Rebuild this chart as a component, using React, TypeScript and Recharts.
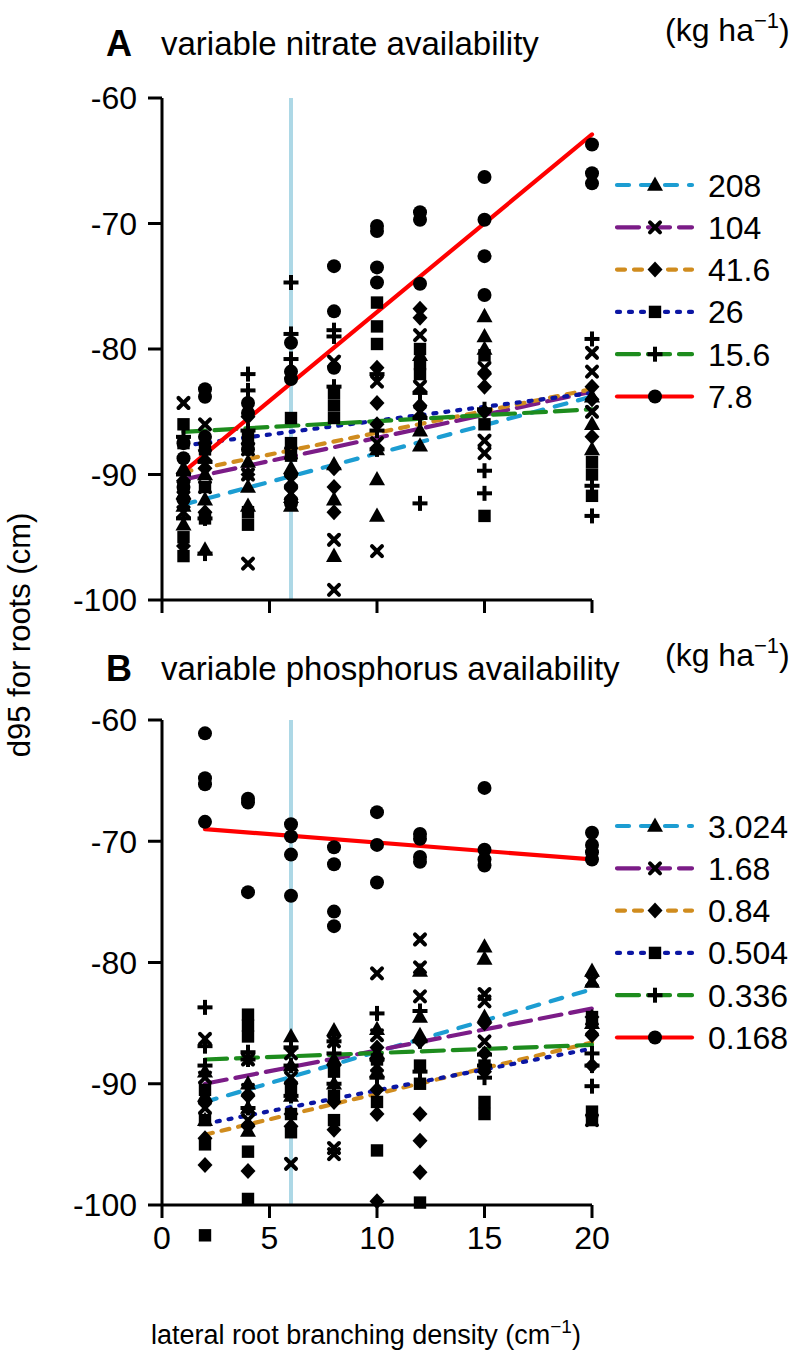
import React from 'react';
import { ComposedChart, Scatter, Line, XAxis, YAxis, ReferenceLine, ReferenceDot, Legend } from 'recharts';

const FONT = '"Liberation Sans", Arial, Helvetica, sans-serif';

// ---------- shared axes ----------
const yTicks = [-100, -90, -80, -70, -60];
const xTicks = [0, 5, 10, 15, 20];
const referenceDensity = 6;

// ---------- Panel A: variable nitrate availability (kg ha-1) ----------
const nitrateLevels = ['208', '104', '41.6', '26', '15.6', '7.8'];
const nitrateDensities = [1, 2, 4, 6, 8, 10, 12, 15, 20];
const nitrate208 = [
  [-89.5, -91.5, -92.5, -94], [-90, -92, -96], [-89, -91, -92.5], [-89.5, -91.8, -92.5],
  [-89.2, -92, -96.5], [-88, -90.4, -93.3], [-80.5, -86.5, -87.7], [-77.4, -79, -80], [-83.8, -86, -88],
];
const nitrate104 = [
  [-84.3, -91, -93], [-86, -88.5, -91], [-88, -90, -97.1], [-88.3, -90.5, -91.5],
  [-81, -95.2, -99.2], [-82.6, -87.5, -96.1], [-78.9, -83, -85], [-81.5, -87.3, -88.3], [-80.3, -81.8, -85],
];
const nitrate41_6 = [
  [-90.5, -92, -95.7], [-87.5, -89.5, -93], [-85.4, -87.5, -90], [-90, -91, -92],
  [-89.5, -91, -93], [-81.5, -84.3, -86], [-76.8, -77.5, -84.5], [-82, -83, -85], [-83, -84, -87],
];
const nitrate26 = [
  [-86, -87.5, -95, -96.5], [-88, -91, -93.5], [-87, -93, -94], [-85.5, -87.5, -88.5],
  [-83.5, -84.5, -85.5], [-76.3, -78.2, -79.6], [-80, -81.2, -82], [-80.5, -86, -93.3], [-89, -90, -91.7],
];
const nitrate15_6 = [
  [-87, -90, -93.5], [-89, -93.5, -96.3], [-82, -83.3, -86.5], [-74.7, -78.8, -80.8],
  [-78.5, -79, -83], [-82, -86.5, -88], [-83.5, -85.5, -92.3], [-84.8, -89.7, -91.5], [-79.2, -90.9, -93.3],
];
const nitrate7_8 = [
  [-87.5, -88.7, -91, -92], [-83.2, -83.8, -87], [-84.3, -85.1, -88], [-79.5, -81.8, -82.4, -92.3],
  [-73.4, -77, -81.5], [-70.2, -70.6, -73.5, -74.7], [-69.1, -69.7, -74.8], [-66.3, -69.7, -72.6, -75.7], [-63.7, -66, -66.8],
];
const nitrateFitRange = [1, 20];
const nitrateFitStart = [-92.4, -90.4, -89.8, -87.7, -86.6, -89.8];
const nitrateFitEnd = [-83.8, -83.4, -83.2, -83.5, -84.8, -62.9];

// ---------- Panel B: variable phosphorus availability (kg ha-1) ----------
const phosphorusLevels = ['3.024', '1.68', '0.84', '0.504', '0.336', '0.168'];
const phosphorusDensities = [2, 4, 6, 8, 10, 12, 15, 20];
const phosphorus3_024 = [
  [-89, -91, -93], [-90, -92, -93.9], [-86.1, -88.5, -91], [-85.6, -88, -90],
  [-85.5, -87.5, -89], [-80.7, -84.5, -86], [-78.7, -79.7, -84.5], [-80.7, -81.6, -85],
];
const phosphorus1_68 = [
  [-86.3, -89.5, -92], [-88, -90.5, -93], [-87.5, -89.5, -96.6], [-86.5, -95.3, -95.8],
  [-80.9, -86, -88.5], [-78.1, -80.4, -82.8], [-82.6, -83.2, -86.5], [-81.5, -85.5, -93],
];
const phosphorus0_84 = [
  [-91.5, -94.5, -96.7], [-91, -93.5, -97.2], [-90, -92.5, -93.5], [-88.5, -91.5, -93.8],
  [-87, -90.5, -92.5, -99.7], [-86.5, -92.5, -94.7, -97.3], [-85, -87.5, -89], [-84.5, -86, -88.5],
];
const phosphorus0_504 = [
  [-90.5, -93, -95, -102.5], [-84.3, -85.2, -86.1, -95.6, -99.5], [-90.5, -92.5, -94], [-89, -91, -93],
  [-88, -91.5, -95.5], [-88.5, -90, -99.8], [-88.5, -91.5, -92.5], [-84.5, -92.3, -93],
];
const phosphorus0_336 = [
  [-83.7, -86.9, -88.5], [-87.4, -88, -92], [-87, -88.5, -91], [-86.5, -87.5, -90],
  [-84.2, -88, -89.5], [-84, -86.5, -89], [-87.6, -88.5, -89.5], [-87.5, -88.5, -90.2],
];
const phosphorus0_168 = [
  [-61.1, -64.8, -65.3, -68.4], [-66.5, -66.8, -74.2], [-68.6, -69.6, -71.1, -74.5], [-70.5, -71.9, -75.8, -77],
  [-67.6, -70.3, -73.4], [-69.4, -69.8, -71.3, -71.7], [-65.6, -70.7, -71.5, -72], [-69.3, -70.3, -70.9, -71.5],
];
const phosphorusFitRange = [2, 20];
const phosphorusFitStart = [-91.5, -90, -94.2, -93.3, -88, -69];
const phosphorusFitEnd = [-82.2, -83.8, -86.6, -87.1, -86.8, -71.5];

// ---------- styles ----------
type MarkerKind = 'triangle' | 'cross' | 'diamond' | 'square' | 'plus' | 'circle';
const STYLES: { color: string; dash?: string; marker: MarkerKind }[] = [
  { color: '#1c9dd2', dash: '12 12', marker: 'triangle' },
  { color: '#7b1c87', dash: '22 9', marker: 'cross' },
  { color: '#d08c1e', dash: '8 9', marker: 'diamond' },
  { color: '#0b16a3', dash: '3 9', marker: 'square' },
  { color: '#1d8c1d', dash: '22 9', marker: 'plus' },
  { color: '#ff0000', dash: undefined, marker: 'circle' },
];
const LINE_W = 4.2;

function Marker({ kind, cx, cy }: { kind: MarkerKind; cx: number; cy: number }) {
  if (cx == null || cy == null || isNaN(cx) || isNaN(cy)) return null;
  switch (kind) {
    case 'triangle':
      return <polygon points={`${cx},${cy - 8.5} ${cx + 8},${cy + 5.8} ${cx - 8},${cy + 5.8}`} fill="#000" />;
    case 'cross':
      return (
        <g stroke="#000" strokeWidth={4} strokeLinecap="round">
          <line x1={cx - 5} y1={cy - 5} x2={cx + 5} y2={cy + 5} />
          <line x1={cx - 5} y1={cy + 5} x2={cx + 5} y2={cy - 5} />
        </g>
      );
    case 'diamond':
      return <polygon points={`${cx},${cy - 8} ${cx + 7.5},${cy} ${cx},${cy + 8} ${cx - 7.5},${cy}`} fill="#000" />;
    case 'square':
      return <rect x={cx - 6.2} y={cy - 6.2} width={12.4} height={12.4} fill="#000" />;
    case 'plus':
      return (
        <g stroke="#000" strokeWidth={4}>
          <line x1={cx - 7.5} y1={cy} x2={cx + 7.5} y2={cy} />
          <line x1={cx} y1={cy - 7.5} x2={cx} y2={cy + 7.5} />
        </g>
      );
    default:
      return <circle cx={cx} cy={cy} r={7} fill="#000" />;
  }
}

type Pt = { x: number; y: number };
const toPoints = (xs: number[], reps: number[][]): Pt[] => xs.flatMap((x, i) => reps[i].map((y) => ({ x, y })));

function makeLegend(levels: string[]) {
  return () => (
    <svg width={187} height={270} style={{ display: 'block', overflow: 'visible' }}>
      {levels.map((lab, i) => {
        const cy = 20 + i * 42.3;
        const st = STYLES[i];
        return (
          <g key={lab}>
            <line x1={7} x2={82} y1={cy} y2={cy} stroke={st.color} strokeWidth={LINE_W}
              strokeDasharray={st.dash} strokeLinecap="round" />
            <Marker kind={st.marker} cx={45} cy={cy} />
            <text x={98} y={cy + 11.5} fontSize={32} fontFamily={FONT} fill="#000">{lab}</text>
          </g>
        );
      })}
    </svg>
  );
}

type PanelProps = {
  top: number;
  height: number;
  plotHeight: number;
  levels: string[];
  xs: number[];
  series: number[][][];
  fitRange: number[];
  fitStart: number[];
  fitEnd: number[];
  showXLabels: boolean;
  legendTop: number;
};

function Panel(p: PanelProps) {
  const yMin = yTicks[0];
  const yMax = yTicks[yTicks.length - 1];
  const pts = p.series.map((s) => toPoints(p.xs, s));
  const inside = pts.map((arr) => arr.filter((d) => d.y >= yMin && d.y <= yMax));
  const outside = pts.map((arr) => arr.filter((d) => d.y < yMin || d.y > yMax));
  const marginTop = 98;
  const tickStyle = { fill: '#000', fontSize: 32, fontFamily: FONT };
  const axisStroke = { stroke: '#000', strokeWidth: 3 };
  return (
    <div style={{ position: 'absolute', left: 0, top: p.top, width: 797, height: p.height }}>
      <ComposedChart width={797} height={p.height} margin={{ top: marginTop, right: 205, bottom: 0, left: 0 }}>
        <XAxis type="number" dataKey="x" domain={[xTicks[0], xTicks[xTicks.length - 1]]} ticks={xTicks}
          height={p.height - marginTop - p.plotHeight} axisLine={axisStroke} tickLine={axisStroke} tickSize={13}
          tickMargin={8} tick={tickStyle} tickFormatter={p.showXLabels ? undefined : () => ''} interval={0} />
        <YAxis type="number" dataKey="y" domain={[yMin, yMax]} ticks={yTicks} width={162}
          axisLine={axisStroke} tickLine={axisStroke} tickSize={14} tickMargin={11} tick={tickStyle} interval={0} />
        <ReferenceLine x={referenceDensity} stroke="#add8e6" strokeWidth={4} />
        {inside.map((data, i) => (
          <Scatter key={'s' + i} data={data} isAnimationActive={false}
            shape={(props: any) => <Marker kind={STYLES[i].marker} cx={props.cx} cy={props.cy} />} />
        ))}
        {outside.flatMap((arr, i) => arr.map((d, j) => (
          <ReferenceDot key={`o${i}-${j}`} x={d.x} y={d.y} ifOverflow="visible"
            shape={(props: any) => <Marker kind={STYLES[i].marker} cx={props.cx} cy={props.cy} />} />
        )))}
        {p.levels.map((lab, i) => (
          <Line key={'l' + i} data={[{ x: p.fitRange[0], y: p.fitStart[i] }, { x: p.fitRange[1], y: p.fitEnd[i] }]}
            dataKey="y" stroke={STYLES[i].color} strokeWidth={LINE_W} strokeDasharray={STYLES[i].dash}
            strokeLinecap="round" dot={false} activeDot={false} isAnimationActive={false} legendType="none" />
        ))}
        <Legend layout="horizontal" verticalAlign="middle" align="center" content={makeLegend(p.levels)}
          wrapperStyle={{ left: 610, top: p.legendTop, width: 187, height: 270 }} />
      </ComposedChart>
    </div>
  );
}

function Overlay() {
  return (
    <svg width={797} height={1363} style={{ position: 'absolute', left: 0, top: 0, pointerEvents: 'none' }}
      fontFamily={FONT} fill="#000">
      <text x={106} y={56} fontSize={36} fontWeight="bold">A</text>
      <text x={161} y={55} fontSize={33}>variable nitrate availability</text>
      <text x={665} y={41} fontSize={32}>(kg ha<tspan fontSize={22} dy={-13}>−1</tspan><tspan dy={13}>)</tspan></text>
      <text x={106} y={681} fontSize={36} fontWeight="bold">B</text>
      <text x={161} y={680} fontSize={33}>variable phosphorus availability</text>
      <text x={665} y={666} fontSize={32}>(kg ha<tspan fontSize={22} dy={-13}>−1</tspan><tspan dy={13}>)</tspan></text>
      <text x={366} y={1344} fontSize={27} textAnchor="middle">
        lateral root branching density (cm<tspan fontSize={19} dy={-11}>−1</tspan><tspan dy={11}>)</tspan>
      </text>
      <text transform="translate(30, 635) rotate(-90)" fontSize={31} textAnchor="middle">d95 for roots (cm)</text>
    </svg>
  );
}

export default function App() {
  return (
    <div style={{ position: 'absolute', left: 0, top: 0, width: 797, height: 1363, background: '#fff' }}>
      <Panel top={0} height={622} plotHeight={502} levels={nitrateLevels} xs={nitrateDensities}
        series={[nitrate208, nitrate104, nitrate41_6, nitrate26, nitrate15_6, nitrate7_8]}
        fitRange={nitrateFitRange} fitStart={nitrateFitStart} fitEnd={nitrateFitEnd}
        showXLabels={false} legendTop={165} />
      <Panel top={622} height={741} plotHeight={485} levels={phosphorusLevels} xs={phosphorusDensities}
        series={[phosphorus3_024, phosphorus1_68, phosphorus0_84, phosphorus0_504, phosphorus0_336, phosphorus0_168]}
        fitRange={phosphorusFitRange} fitStart={phosphorusFitStart} fitEnd={phosphorusFitEnd}
        showXLabels={true} legendTop={184} />
      <Overlay />
    </div>
  );
}
